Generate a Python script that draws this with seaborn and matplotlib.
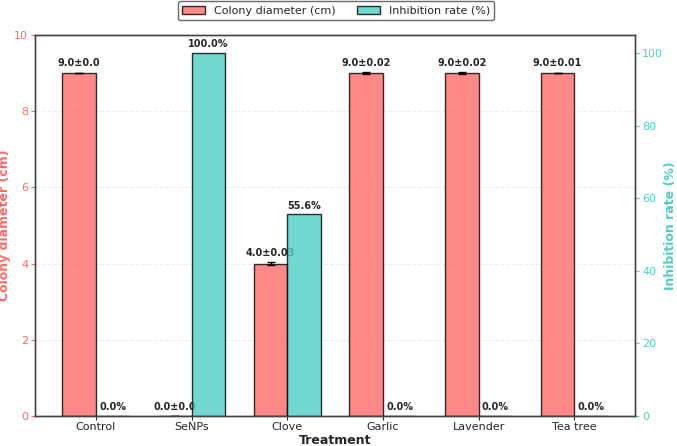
import numpy as np
import pandas as pd
import matplotlib
matplotlib.use('Agg')
import matplotlib.pyplot as plt
import seaborn as sns
from matplotlib.patches import Patch

# data
treatments = ['Control', 'SeNPs', 'Clove', 'Garlic', 'Lavender', 'Tea tree']
colony_diameter = [9.0, 0.0, 4.0, 9.0, 9.0, 9.0]
colony_std = [0.0, 0.0, 0.03, 0.02, 0.02, 0.01]
colony_std_text = ['0.0', '0.0', '0.03', '0.02', '0.02', '0.01']
inhibition_rate = [0.0, 100.0, 55.6, 0.0, 0.0, 0.0]

red = '#FF6B6B'
teal = '#4ECDC4'

sns.set_style('white')
plt.rcParams['font.family'] = ['DejaVu Sans']

x = np.arange(len(treatments))
width = 0.35

fig, ax1 = plt.subplots(figsize=(6.77, 4.46), dpi=100)
fig.subplots_adjust(left=0.052, right=0.938, bottom=0.067, top=0.922)
ax2 = ax1.twinx()

# colony diameter bars (left axis)
sns.barplot(x=x - width / 2, y=colony_diameter, native_scale=True, width=width,
            color=red, saturation=1, alpha=0.8, edgecolor='black', linewidth=1,
            ax=ax1)
ax1.errorbar(x - width / 2, colony_diameter, yerr=colony_std, fmt='none',
             ecolor='black', elinewidth=1, capsize=3, capthick=1)

# inhibition bars (right axis)
sns.barplot(x=x + width / 2, y=inhibition_rate, native_scale=True, width=width,
            color=teal, saturation=1, alpha=0.8, edgecolor='black', linewidth=1,
            ax=ax2)

# value labels
for xi, m, s, st in zip(x, colony_diameter, colony_std, colony_std_text):
    ax1.text(xi - width / 2, m + s + 0.12, f'{m:.1f}±{st}', ha='center', va='bottom',
             fontsize=7, fontweight='bold')
for xi, v in zip(x, inhibition_rate):
    ax2.text(xi + width / 2, v + 1, f'{v:.1f}%', ha='center', va='bottom',
             fontsize=7, fontweight='bold')

ax1.set_ylim(0, 10)
ax2.set_ylim(0, 105)
ax1.set_xlim(-0.635, 5.635)
ax1.set_xticks(x)
ax1.set_xticklabels(treatments, fontsize=8)
ax1.set_xlabel('Treatment', fontsize=9, fontweight='bold', labelpad=1)
ax1.set_ylabel('Colony diameter (cm)', fontsize=9, fontweight='bold', color=red, labelpad=2)
ax2.set_ylabel('Inhibition rate (%)', fontsize=9, fontweight='bold', color=teal, labelpad=1)
ax1.tick_params(axis='y', colors=red, labelsize=8, left=True, length=3, pad=2)
ax2.tick_params(axis='y', colors=teal, labelsize=8, right=True, length=3, pad=2)
ax1.tick_params(axis='x', bottom=True, length=3, labelsize=8, pad=1.5)
ax1.set_yticks([0, 2, 4, 6, 8, 10])
ax2.set_yticks([0, 20, 40, 60, 80, 100])

ax1.grid(axis='y', linestyle='--', alpha=0.35)
ax1.set_axisbelow(True)
for ax in (ax1, ax2):
    for sp in ax.spines.values():
        sp.set_color('#444444')
        sp.set_linewidth(1)

handles = [Patch(facecolor=red, alpha=0.8, edgecolor='black', label='Colony diameter (cm)'),
           Patch(facecolor=teal, alpha=0.8, edgecolor='black', label='Inhibition rate (%)')]
fig.legend(handles=handles, loc='upper center', bbox_to_anchor=(0.4965, 1.0),
           ncol=2, fontsize=8, frameon=True, borderaxespad=0.1, edgecolor='#444444')

fig.savefig('out.png', dpi=100)
